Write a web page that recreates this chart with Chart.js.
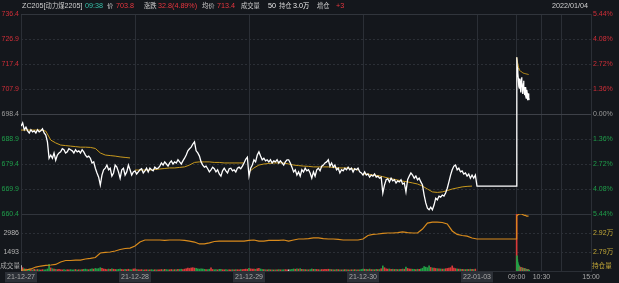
<!DOCTYPE html>
<html>
<head>
<meta charset="utf-8">
<script src="https://cdn.jsdelivr.net/npm/chart.js@4.4.1/dist/chart.umd.min.js"></script>
<style>
  html, body { margin: 0; padding: 0; background: #14171c; }
  #lienzo { position: relative; width: 619px; height: 283px; overflow: hidden;
            font-family: 'Liberation Sans', 'Noto Sans CJK SC', sans-serif; }
  canvas { position: absolute; left: 0; }
  #graficoPrecio { top: 0; }
  #graficoVolumen { top: 206px; }
  .cab { position: absolute; top: 1px; font-size: 7.2px; line-height: 10px; color: #cfcfcf; white-space: nowrap; }
  .cjk { font-size: 6.3px; }
  .rojo { color: #e8363f; }
  .claro { color: #ececec; }
</style>
</head>
<body>
<div id="lienzo">
  <canvas id="graficoPrecio" width="619" height="224"></canvas>
  <canvas id="graficoVolumen" width="619" height="77"></canvas>
  <span class="cab" style="left:22px">ZC205[<span class="cjk">动力煤</span>2205]</span>
  <span class="cab" style="left:85px;color:#38c0aa">09:38</span>
  <span class="cab cjk" style="left:107px">价</span>
  <span class="cab rojo" style="left:116px">703.8</span>
  <span class="cab cjk" style="left:144px">涨跌</span>
  <span class="cab rojo" style="left:158px">32.8(4.89%)</span>
  <span class="cab cjk" style="left:202px">均价</span>
  <span class="cab rojo" style="left:217px">713.4</span>
  <span class="cab cjk" style="left:241px">成交量</span>
  <span class="cab claro" style="left:268px">50</span>
  <span class="cab cjk" style="left:279px">持仓</span>
  <span class="cab claro" style="left:293px">3.0<span class="cjk">万</span></span>
  <span class="cab cjk" style="left:317px">增仓</span>
  <span class="cab rojo" style="left:336px">+3</span>
  <span class="cab" style="left:552px">2022/01/04</span>
</div>
<script>
// Eje de tiempo en minutos de negociación: 5 sesiones de 345 min
const marcasX = [0, 345, 690, 1035, 1380, 1500, 1575, 1635, 1725];
const etiquetasX = ['21-12-27', '21-12-28', '21-12-29', '21-12-30', '22-01-03', '09:00', '10:30', '', '15:00'];

// Escala de precios
const etiquetasPrecio = [736.4, 726.9, 717.4, 707.9, 698.4, 688.9, 679.4, 669.9, 660.4];
const precioBase = 698.4;
const liquidacionPrevia = 671.0;

// Precio (cada 5 min) por sesión
const precioDia1 = [
  693.8, 695.0, 692.4, 693.4, 692.0, 691.2, 692.4, 691.6, 692.0, 691.2,
  692.4, 691.6, 692.0, 692.8, 691.2, 690.4, 687.8, 681.6, 682.8, 681.6,
  683.6, 680.8, 682.8, 683.6, 684.0, 685.2, 684.8, 683.6, 684.0, 685.2,
  684.8, 684.4, 683.6, 684.8, 684.0, 684.4, 683.6, 684.8, 684.0, 682.8,
  682.0, 682.4, 681.6, 679.8, 680.2, 677.8, 676.0, 674.4, 671.4, 675.2,
  677.2, 677.8, 679.0, 677.2, 677.8, 674.8, 676.0, 679.0, 678.2, 676.4,
  674.0, 677.2, 677.8, 675.2, 676.4, 679.0, 677.2, 675.2, 676.4
];
const precioDia2 = [
  676.8, 675.6, 676.4, 677.2, 677.6, 676.0, 676.8, 677.8, 676.4, 677.8,
  677.2, 676.8, 678.2, 677.6, 677.8, 678.6, 679.8, 679.0, 680.2, 679.4,
  678.6, 679.8, 680.6, 679.4, 680.2, 679.8, 681.0, 680.2, 679.4, 680.6,
  681.6, 682.8, 684.4, 685.2, 685.8, 687.0, 687.8, 684.4, 683.6, 682.4,
  680.2, 679.0, 678.2, 678.6, 677.6, 676.4, 677.2, 678.2, 677.6, 676.4,
  677.2, 675.6, 674.8, 676.8, 677.8, 676.8, 676.0, 677.6, 677.8, 676.8,
  677.2, 676.4, 677.8, 678.2, 677.6, 678.6, 679.8, 681.2, 682.0
];
const precioDia3 = [
  674.8, 677.8, 679.0, 681.0, 680.2, 682.8, 684.0, 682.4, 681.0, 681.6,
  680.6, 681.0, 680.2, 681.0, 679.8, 680.6, 680.2, 681.0, 679.8, 680.6,
  679.8, 679.0, 680.2, 681.0, 681.0, 679.8, 678.2, 676.4, 677.2, 675.2,
  676.4, 674.8, 677.2, 676.4, 677.8, 676.8, 677.2, 676.0, 674.0, 676.4,
  674.8, 677.2, 677.8, 676.8, 678.6, 679.0, 679.8, 680.2, 681.0, 678.6,
  679.8, 678.2, 679.0, 677.2, 677.8, 676.0, 677.2, 676.8, 677.8, 677.2,
  678.2, 677.2, 677.8, 676.4, 677.6, 677.2, 677.8, 676.4, 676.0
];
const precioDia4 = [
  675.2, 676.4, 675.2, 675.6, 674.4, 675.2, 674.8, 675.6, 674.4, 674.8,
  674.0, 674.4, 668.4, 671.4, 673.4, 673.8, 672.6, 674.0, 673.0, 673.4,
  672.2, 673.0, 672.6, 673.4, 671.8, 672.2, 668.8, 673.4, 674.8, 676.0,
  675.2, 674.0, 674.8, 673.4, 674.0, 672.6, 671.4, 667.6, 664.6, 662.6,
  662.0, 663.0, 662.0, 663.8, 666.4, 665.8, 667.2, 666.8, 667.6, 667.2,
  668.4, 670.2, 672.6, 675.2, 677.2, 678.6, 679.0, 677.2, 677.8, 676.4,
  676.8, 675.6, 676.0, 674.8, 675.6, 674.0, 675.2, 674.0, 675.2
];
// Sesión actual, por minuto desde las 09:00
const precioDia5 = [
  720.0, 719.6, 716.0, 714.4, 714.0, 712.0, 710.2, 709.0, 708.2, 710.2,
  711.8, 709.4, 706.6, 708.6, 710.8, 712.4, 710.2, 708.2, 706.0, 707.2,
  709.4, 711.0, 709.0, 707.0, 705.6, 706.8, 708.6, 707.6, 705.2, 704.4,
  706.0, 707.6, 706.4, 704.8, 703.6, 705.0, 706.2, 704.6, 703.8
];

// Precio medio (cada 15 min; la última sesión cada 3 min)
const promDia1 = [692.3, 692.3, 692.3, 692.3, 692.3, 691.9, 688.5, 687.4, 686.6, 686.4, 686.2, 686.0,
  685.8, 685.8, 685.7, 685.3, 683.6, 682.8, 682.6, 682.4, 682.1, 681.9, 681.7];
const promDia2 = [677.1, 677.1, 677.1, 677.1, 677.3, 677.5, 677.7, 677.9, 677.9, 678.1, 678.3, 679.0,
  680.0, 680.2, 680.2, 680.2, 680.0, 680.0, 679.8, 679.8, 679.8, 679.8, 679.8];
const promDia3 = [676.4, 677.9, 679.0, 679.4, 679.6, 679.8, 679.8, 679.8, 679.4, 679.0, 678.8, 678.6,
  678.5, 678.3, 678.3, 678.3, 678.3, 678.1, 677.9, 677.9, 677.9, 677.5, 677.1];
const promDia4 = [675.6, 675.6, 675.2, 675.0, 674.6, 674.1, 673.7, 673.3, 672.9, 672.6, 672.2, 671.8,
  671.0, 669.9, 668.8, 668.6, 668.8, 669.3, 669.9, 670.3, 670.7, 670.9, 671.0];
const promDia5 = [720.0, 717.8, 716.0, 715.0, 714.6, 714.4, 714.1, 713.9, 713.8, 713.7, 713.6, 713.5, 713.4];

// Volumen (cada 5 min; la última sesión por minuto)
const etiquetasVolumen = [1493, 2986];
const volDia1 = [
  420, 260, 180, 150, 120, 140, 110, 90, 130, 100,
  120, 90, 80, 110, 95, 100, 160, 520, 240, 180,
  150, 130, 110, 140, 100, 90, 120, 80, 100, 90,
  110, 85, 95, 120, 80, 100, 90, 110, 130, 150,
  120, 100, 140, 180, 150, 200, 170, 190, 260, 210,
  160, 140, 120, 150, 130, 170, 140, 120, 110, 130,
  150, 120, 100, 130, 110, 140, 120, 100, 160
];
const volDia2 = [
  180, 120, 100, 90, 110, 80, 95, 100, 85, 90,
  110, 80, 100, 90, 85, 95, 120, 100, 130, 110,
  90, 100, 120, 95, 110, 100, 130, 120, 140, 110,
  150, 180, 220, 200, 240, 260, 230, 200, 170, 150,
  180, 160, 130, 120, 110, 140, 250, 120, 100, 110,
  90, 130, 140, 100, 95, 110, 85, 100, 90, 105,
  95, 110, 100, 90, 120, 110, 130, 150, 140
];
const volDia3 = [
  200, 170, 150, 160, 130, 180, 200, 160, 120, 110,
  100, 90, 110, 95, 100, 85, 90, 100, 110, 95,
  85, 100, 110, 90, 95, 105, 130, 160, 140, 170,
  150, 180, 130, 120, 110, 100, 95, 120, 160, 130,
  140, 120, 110, 100, 120, 110, 130, 120, 140, 130,
  110, 100, 95, 120, 110, 100, 90, 95, 110, 100,
  90, 85, 100, 95, 110, 90, 100, 95, 120
];
const volDia4 = [
  160, 140, 130, 120, 150, 110, 120, 100, 130, 110,
  120, 180, 400, 260, 180, 150, 160, 130, 140, 120,
  130, 110, 120, 130, 150, 140, 300, 200, 160, 150,
  140, 130, 120, 140, 130, 160, 220, 350, 300, 260,
  400, 280, 240, 220, 200, 180, 170, 160, 150, 160,
  180, 200, 220, 260, 400, 230, 190, 160, 150, 140,
  130, 120, 110, 130, 120, 140, 130, 120, 150
];
const volDia5 = [
  6500, 1200, 900, 700, 560, 480, 420, 380, 340, 300,
  280, 300, 260, 240, 220, 260, 230, 210, 200, 220,
  190, 180, 200, 170, 160, 180, 150, 140, 160, 130,
  120, 140, 110, 100, 120, 90, 80, 70, 50
];

// Posiciones abiertas (cada 15 min; la última sesión cada 3 min)
const etiquetasOI = [27900, 29200];
const oiDia1 = [26670, 26670, 26740, 26870, 26940, 26980, 27010, 27050, 27220, 27320, 27320, 27350,
  27350, 27420, 27460, 27520, 27830, 27870, 27900, 27970, 28070, 28140, 28170];
const oiDia2 = [28310, 28580, 28720, 28720, 28720, 28720, 28690, 28720, 28720, 28720, 28690, 28650,
  28580, 28450, 28450, 28520, 28620, 28650, 28650, 28650, 28650, 28650, 28650];
const oiDia3 = [28690, 28720, 28650, 28650, 28690, 28690, 28690, 28720, 28650, 28720, 28790, 28790,
  28820, 28860, 28860, 28820, 28790, 28790, 28760, 28720, 28720, 28720, 28720];
const oiDia4 = [28790, 29030, 29100, 29130, 29170, 29200, 29200, 29230, 29270, 29230, 29200, 29200,
  29470, 29880, 29950, 29950, 29920, 29820, 29340, 29100, 29030, 28990, 28860];
const oiNoche = 28790;
const oiDia5 = [30360, 30430, 30470, 30500, 30500, 30500, 30470, 30430, 30400, 30400, 30360, 30360, 30360];

// Colores
const rojo = '#d02e38', verde = '#1f9e4a', gris = '#9c9c9c';
const colorRejilla = '#2b2f36';
const fuente = { family: "'Liberation Sans', 'Noto Sans CJK SC', sans-serif", size: 7 };

const DIA = 345, INICIO_HOY = 1380, APERTURA_HOY = 1500;

// Construir las series
const datosPrecio = [];
[precioDia1, precioDia2, precioDia3, precioDia4].forEach((dia, d) => {
  dia.forEach((v, i) => datosPrecio.push({ x: d * DIA + i * 5, y: v }));
});
datosPrecio.push({ x: INICIO_HOY, y: liquidacionPrevia }, { x: APERTURA_HOY, y: liquidacionPrevia });
precioDia5.forEach((v, i) => datosPrecio.push({ x: APERTURA_HOY + i, y: v }));

const datosPromedio = [];
[promDia1, promDia2, promDia3, promDia4].forEach((dia, d) => {
  dia.forEach((v, i) => datosPromedio.push({ x: d * DIA + i * 15, y: v }));
  datosPromedio.push({ x: d * DIA + 342, y: null });  // corte entre sesiones
});
promDia5.forEach((v, i) => datosPromedio.push({ x: APERTURA_HOY + i * 3, y: v }));

const datosOI = [];
[oiDia1, oiDia2, oiDia3, oiDia4].forEach((dia, d) => {
  dia.forEach((v, i) => datosOI.push({ x: d * DIA + i * 15, y: v }));
});
datosOI.push({ x: INICIO_HOY, y: oiNoche }, { x: APERTURA_HOY, y: oiNoche });
oiDia5.forEach((v, i) => datosOI.push({ x: APERTURA_HOY + i * 3, y: v }));

// Barras de volumen: rojo si sube, verde si baja, blanco si no cambia
function colorBarra(actual, anterior) {
  if (actual > anterior) return '#d93a3a';
  if (actual < anterior) return '#22a046';
  return '#cfcfcf';
}
const datosVol = [], coloresVol = [];
let anterior = precioDia1[0];
[[precioDia1, volDia1], [precioDia2, volDia2], [precioDia3, volDia3], [precioDia4, volDia4]].forEach(([p, vol], d) => {
  vol.forEach((v, i) => {
    datosVol.push({ x: d * DIA + i * 5, y: v });
    coloresVol.push(colorBarra(p[i], anterior));
    anterior = p[i];
  });
});
anterior = liquidacionPrevia;
volDia5.forEach((v, i) => {
  datosVol.push({ x: APERTURA_HOY + i, y: v });
  coloresVol.push(colorBarra(precioDia5[i], anterior));
  anterior = precioDia5[i];
});

function fijarAncho(ancho) { return (eje) => { eje.width = ancho; }; }
function fijarMarcas(valores) { return (eje) => { eje.ticks = valores.map(v => ({ value: v })); }; }
function colorPrecio(ctx) {
  const v = ctx.tick.value;
  if (v > precioBase + 0.01) return rojo;
  if (v < precioBase - 0.01) return verde;
  return gris;
}
const ejeX = (conEtiquetas) => ({
  type: 'linear', min: 0, max: 1725, offset: false,
  afterBuildTicks: fijarMarcas(marcasX),
  afterFit: conEtiquetas ? (eje) => { eje.height = 12; } : undefined,
  ticks: {
    display: conEtiquetas, autoSkip: false, maxRotation: 0, padding: 2,
    color: '#a8a8a8', font: fuente,
    callback: (v) => etiquetasX[marcasX.indexOf(v)],
    showLabelBackdrop: (ctx) => ctx.index < 5,
    backdropColor: '#2c3037', backdropPadding: { x: 2, y: 1 }
  },
  grid: { color: colorRejilla, drawTicks: false, offset: false },
  border: { display: conEtiquetas, color: colorRejilla }
});

// Gráfico principal: precio y precio medio
new Chart(document.getElementById('graficoPrecio'), {
  type: 'line',
  data: {
    datasets: [
      { data: datosPrecio, borderColor: '#ffffff', borderWidth: 1.3, pointRadius: 0, yAxisID: 'y' },
      { data: datosPromedio, borderColor: '#c99a1e', borderWidth: 1, pointRadius: 0, yAxisID: 'y', spanGaps: false }
    ]
  },
  options: {
    responsive: false, animation: false, devicePixelRatio: 1,
    layout: { padding: { top: 14, bottom: 10, left: 0, right: 0 } },
    plugins: { legend: { display: false }, tooltip: { enabled: false } },
    scales: {
      x: ejeX(false),
      y: {
        position: 'left', min: 660.4, max: 736.4,
        afterBuildTicks: fijarMarcas(etiquetasPrecio), afterFit: fijarAncho(21),
        ticks: { padding: 2, color: colorPrecio, font: fuente, callback: (v) => v.toFixed(1) },
        grid: {
          drawTicks: false, borderDash: [2, 2],
          color: (ctx) => {
            const v = ctx.tick.value;
            return (v === 736.4 || v === 660.4 || v === precioBase) ? 'transparent' : colorRejilla;
          }
        },
        border: { display: false, dash: [2, 2] }
      },
      yPct: {
        position: 'right', min: 660.4, max: 736.4,
        afterBuildTicks: fijarMarcas(etiquetasPrecio), afterFit: fijarAncho(28),
        ticks: {
          padding: 2, color: colorPrecio, font: fuente,
          callback: (v) => (Math.abs(v - precioBase) / precioBase * 100).toFixed(2) + '%'
        },
        grid: {
          drawTicks: false,
          color: (ctx) => {
            const v = ctx.tick.value;
            if (v === precioBase) return '#3e4148';
            if (v === 736.4 || v === 660.4) return '#31353c';
            return 'transparent';
          }
        },
        border: { display: false }
      }
    }
  }
});

// Rótulos al pie de los ejes del volumen
const rotulosBase = {
  id: 'rotulosBase',
  afterDraw(chart) {
    const { ctx, chartArea } = chart;
    ctx.save();
    ctx.font = "6.6px 'Liberation Sans', 'Noto Sans CJK SC', sans-serif";
    ctx.textBaseline = 'middle';
    ctx.fillStyle = '#a8a8a8';
    ctx.textAlign = 'right';
    ctx.fillText('成交量', chartArea.left - 1, chartArea.bottom - 5);
    ctx.fillStyle = '#c2a838';
    ctx.textAlign = 'left';
    ctx.fillText('持仓量', chartArea.right + 1, chartArea.bottom - 5);
    ctx.restore();
  }
};

// Gráfico inferior: volumen y posiciones abiertas
new Chart(document.getElementById('graficoVolumen'), {
  data: {
    datasets: [
      { type: 'line', data: datosOI, borderColor: '#d98b1c', borderWidth: 1.2, pointRadius: 0, yAxisID: 'yOI' },
      { type: 'bar', data: datosVol, backgroundColor: coloresVol, barThickness: 1, yAxisID: 'yVol' }
    ]
  },
  options: {
    responsive: false, animation: false, devicePixelRatio: 1,
    layout: { padding: { top: 8, bottom: 0, left: 0, right: 0 } },
    plugins: { legend: { display: false }, tooltip: { enabled: false } },
    scales: {
      x: ejeX(true),
      yVol: {
        position: 'left', min: 0, max: 4479,
        afterBuildTicks: fijarMarcas(etiquetasVolumen), afterFit: fijarAncho(21),
        ticks: { padding: 2, color: '#b4b4b4', font: fuente, callback: (v) => String(v) },
        grid: { drawTicks: false, color: colorRejilla, borderDash: [2, 2] },
        border: { display: false, dash: [2, 2] }
      },
      yOI: {
        position: 'right', min: 26600, max: 30500,
        afterBuildTicks: fijarMarcas(etiquetasOI), afterFit: fijarAncho(28),
        ticks: { padding: 2, color: '#c2a838', font: fuente, callback: (v) => (v / 10000).toFixed(2) + '万' },
        grid: { display: false, drawTicks: false },
        border: { display: false }
      }
    }
  },
  plugins: [rotulosBase]
});
</script>
</body>
</html>
